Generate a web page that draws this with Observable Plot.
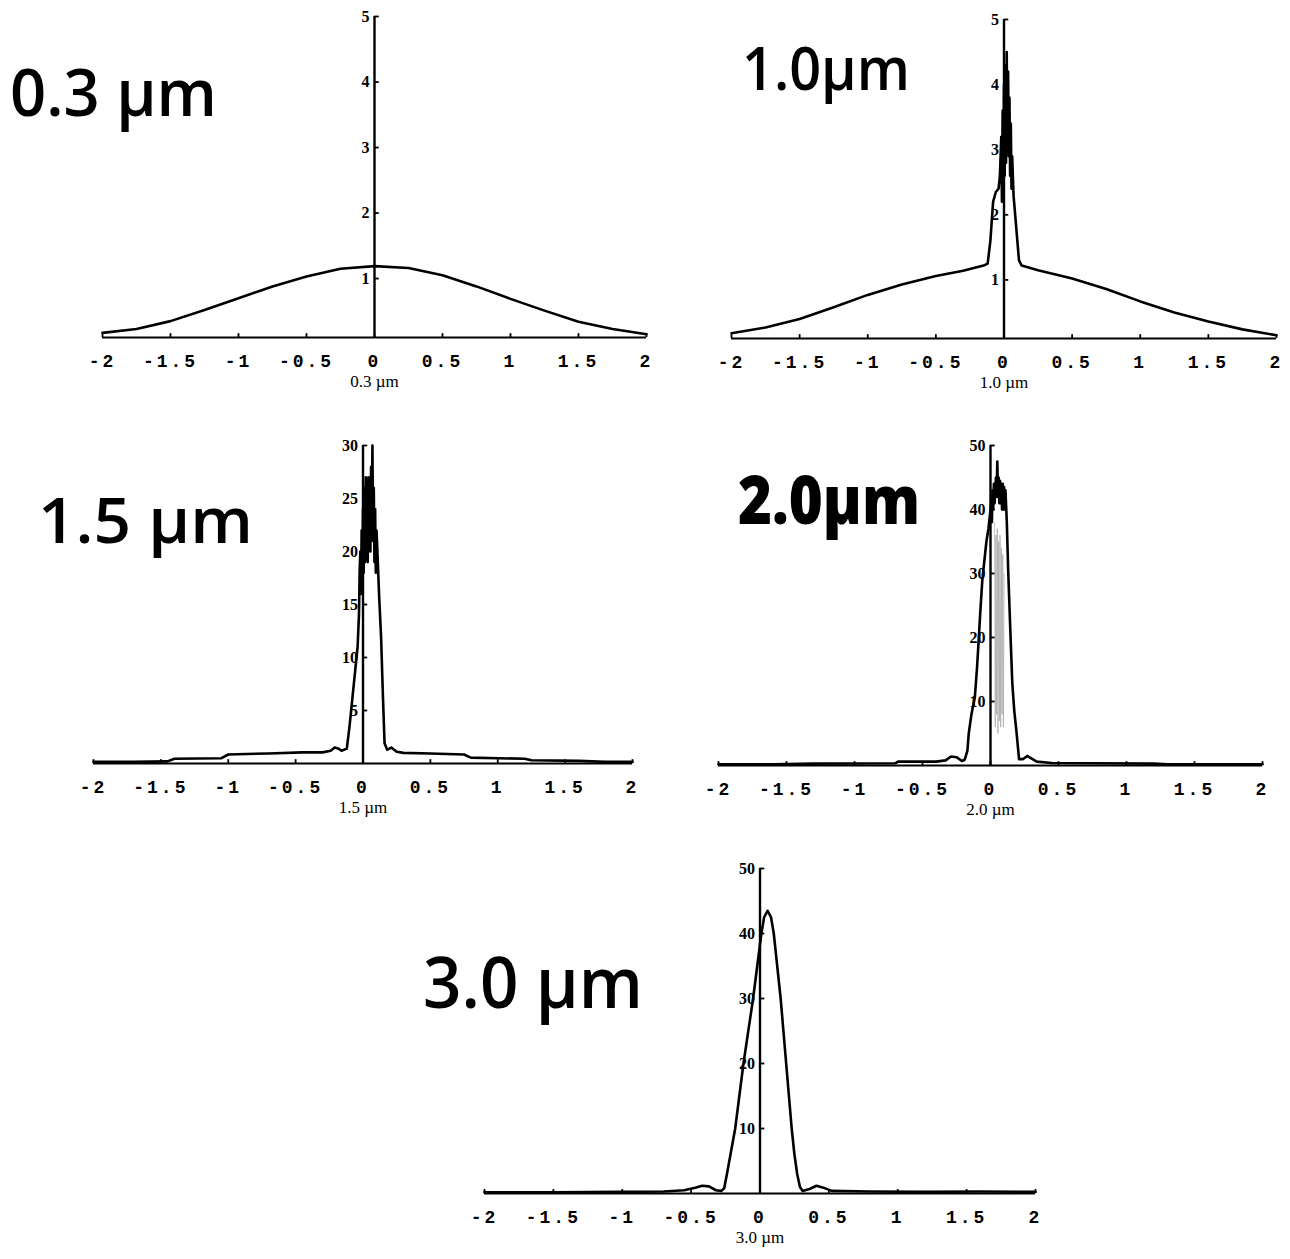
<!DOCTYPE html>
<html><head><meta charset="utf-8">
<script src="https://cdn.jsdelivr.net/npm/d3@7"></script>
<script src="https://cdn.jsdelivr.net/npm/@observablehq/plot@0.6"></script>
<style>
html,body{margin:0;padding:0;background:#fff;}
#page{position:relative;width:1290px;height:1259px;overflow:hidden;background:#fff;}
.panel{position:absolute;}
.panel svg{max-width:none !important;}
.hand{position:absolute;font-family:"Open Sans","DejaVu Sans",sans-serif;color:#000;line-height:1;white-space:nowrap;transform-origin:0 0;}
g[aria-label="x-axis tick label"] text{letter-spacing:3px;}
</style></head><body><div id="page"></div>
<script>
// ---- data ----
const xTicks = [-2, -1.5, -1, -0.5, 0, 0.5, 1, 1.5, 2];
const axisLabels = ["0.3 µm", "1.0 µm", "1.5 µm", "2.0 µm", "3.0 µm"];
const handLabels = ["0.3 µm", "1.0µm", "1.5 µm", "2.0µm", "3.0 µm"];

const yTicks03 = [1, 2, 3, 4, 5];
const yTicks10 = [1, 2, 3, 4, 5];
const yTicks15 = [5, 10, 15, 20, 25, 30];
const yTicks20 = [10, 20, 30, 40, 50];
const yTicks30 = [10, 20, 30, 40, 50];

const yDom03 = [0.1, 5];
const yDom10 = [0.1, 5];
const yDom15 = [0, 30];
const yDom20 = [0, 50];
const yDom30 = [0, 50];

const x03 = [-2, -1.75, -1.5, -1.25, -1, -0.75, -0.5, -0.25, 0, 0.25, 0.5, 0.75, 1, 1.25, 1.5, 1.75, 2];
const y03 = [0.17, 0.23, 0.35, 0.52, 0.70, 0.88, 1.03, 1.15, 1.19, 1.16, 1.05, 0.88, 0.69, 0.51, 0.34, 0.23, 0.15];

const x10 = [-2, -1.75, -1.5, -1.25, -1, -0.75, -0.5, -0.3, -0.15, -0.12, -0.1, -0.08, -0.06, -0.04, -0.03, -0.02, -0.015, -0.01, -0.005, 0, 0.005, 0.01, 0.015, 0.02, 0.025, 0.03, 0.035, 0.04, 0.045, 0.05, 0.055, 0.06, 0.07, 0.09, 0.11, 0.13, 0.25, 0.5, 0.75, 1, 1.25, 1.5, 1.75, 2];
const y10 = [0.18, 0.27, 0.40, 0.58, 0.77, 0.93, 1.06, 1.14, 1.22, 1.25, 1.6, 2.2, 2.35, 2.4, 2.6, 3.2, 2.2, 3.6, 2.4, 4.0, 2.6, 4.3, 2.8, 4.5, 3.0, 4.2, 2.9, 3.8, 2.6, 3.4, 2.4, 2.9, 2.3, 1.8, 1.3, 1.22, 1.15, 1.02, 0.86, 0.67, 0.5, 0.36, 0.24, 0.15];

const x15 = [-2, -1.7, -1.45, -1.4, -1.05, -1.0, -0.7, -0.45, -0.3, -0.24, -0.21, -0.18, -0.16, -0.12, -0.1, -0.08, -0.06, -0.04, -0.03, -0.025, -0.02, -0.015, -0.01, -0.005, 0, 0.005, 0.01, 0.015, 0.02, 0.025, 0.03, 0.035, 0.04, 0.045, 0.05, 0.055, 0.06, 0.065, 0.07, 0.075, 0.08, 0.085, 0.09, 0.095, 0.1, 0.107, 0.12, 0.134, 0.148, 0.16, 0.18, 0.21, 0.25, 0.3, 0.5, 0.75, 0.8, 1.0, 1.2, 1.25, 1.6, 1.8, 2];
const y15 = [0.15, 0.15, 0.2, 0.45, 0.5, 0.85, 0.95, 1.05, 1.05, 1.2, 1.5, 1.4, 1.2, 1.4, 3.5, 6, 8.5, 11, 14, 18, 20, 16, 22, 17, 24, 18, 26, 19, 27, 20, 26, 19, 27, 21, 26, 20, 28, 22, 30, 21, 26, 19, 24, 18, 22, 20, 15.7, 12, 6.3, 1.9, 1.3, 1.5, 1.1, 1.0, 0.95, 0.85, 0.55, 0.5, 0.45, 0.3, 0.25, 0.15, 0.15];

const x20 = [-2, -1.6, -1.3, -0.7, -0.68, -0.4, -0.33, -0.29, -0.25, -0.21, -0.19, -0.17, -0.16, -0.14, -0.115, -0.1, -0.09, -0.075, -0.06, -0.045, -0.03, -0.015, -0.005, 0.005, 0.01, 0.015, 0.02, 0.025, 0.03, 0.04, 0.045, 0.05, 0.055, 0.06, 0.065, 0.07, 0.075, 0.08, 0.085, 0.09, 0.095, 0.1, 0.105, 0.11, 0.12, 0.13, 0.146, 0.16, 0.175, 0.19, 0.21, 0.24, 0.27, 0.3, 0.34, 0.45, 0.75, 1.2, 1.3, 2];
const y20 = [0.2, 0.2, 0.3, 0.35, 0.6, 0.6, 0.8, 1.4, 1.3, 0.7, 0.9, 2.3, 5, 8, 10.7, 15, 18.5, 24, 29, 32, 35, 37, 39, 41, 38, 43, 40, 44, 41, 45, 42, 47.5, 42, 45, 41, 44.5, 41, 44, 40, 44, 40, 43.5, 40, 43, 38, 30.5, 21, 13, 8.5, 5.5, 1.0, 1.0, 1.5, 1.1, 0.6, 0.4, 0.35, 0.3, 0.2, 0.2];
// faint inner hatching inside the 2.0 µm peak
const x20in = [0.03, 0.035, 0.04, 0.045, 0.05, 0.055, 0.06, 0.065, 0.07, 0.075, 0.08, 0.085, 0.09, 0.095, 0.1];
const y20in = [38, 6, 36, 8, 37, 5, 35, 7, 36, 6, 34, 8, 33, 6, 30];

const x30 = [-2, -1.5, -1, -0.7, -0.55, -0.47, -0.42, -0.37, -0.32, -0.28, -0.26, -0.24, -0.21, -0.18, -0.15, -0.12, -0.085, -0.05, -0.02, 0.01, 0.03, 0.055, 0.08, 0.1, 0.125, 0.15, 0.17, 0.19, 0.21, 0.23, 0.25, 0.27, 0.29, 0.31, 0.36, 0.41, 0.46, 0.52, 0.8, 1.2, 1.6, 2];
const y30 = [0.2, 0.2, 0.25, 0.3, 0.5, 0.9, 1.2, 1.1, 0.5, 0.4, 0.8, 3, 6.5, 10, 15, 20, 25, 30, 35, 40, 42.5, 43.5, 42.5, 40, 35, 30, 25, 20, 15, 10, 6, 3, 1.0, 0.4, 0.7, 1.2, 0.9, 0.4, 0.3, 0.25, 0.3, 0.25];

// ---- drawing ----
const page = document.getElementById("page");
const serif = "'Liberation Serif', 'DejaVu Serif', serif";
const mono = "'Liberation Mono', 'DejaVu Sans Mono', monospace";

function drawPanel(xs, ys, yTicks, yDomain, label, frame, inner) {
  const [L, R, T, B] = frame;
  const ml = 30, mr = 30, mt = 14, mb = 64;
  const data = xs.map((x, i) => ({x, y: ys[i]}));
  const [y0, y1] = yDomain;
  const marks = [
    Plot.ruleY([y0], {stroke: "#000", strokeWidth: 2.2}),
    Plot.ruleX([0], {y1: y0, y2: y1, stroke: "#000", strokeWidth: 2.4}),
    Plot.ruleY(yTicks, {x1: 0, x2: 0.035, stroke: "#000", strokeWidth: 1.8}),
    Plot.ruleX(xTicks, {y1: y0, y2: y0 + (y1 - y0) * 0.012, stroke: "#000", strokeWidth: 1.8}),
    Plot.text(yTicks, {x: 0, y: d => d, dx: -5, textAnchor: "end", text: d => String(d), fontSize: 16, fontWeight: "bold", fontFamily: serif, fill: "#000"}),
    Plot.axisX(xTicks, {tickSize: 0, tickPadding: 17, tickFormat: d => String(d), fontSize: 18, fontWeight: "bold", fontFamily: mono, label: null, fill: "#000"}),
    Plot.text([label], {frameAnchor: "bottom", dy: 49, text: d => d, fontSize: 17, fontFamily: serif, fill: "#000"})
  ];
  if (inner) {
    const idata = inner[0].map((x, i) => ({x, y: inner[1][i]}));
    marks.push(Plot.line(idata, {x: "x", y: "y", stroke: "#9a9a9a", strokeWidth: 0.6}));
  }
  marks.push(Plot.line(data, {x: "x", y: "y", stroke: "#000", strokeWidth: 2.6, strokeLinejoin: "round"}));
  const W = R - L + ml + mr, H = B - T + mt + mb;
  const svg = Plot.plot({
    width: W,
    height: H,
    marginLeft: ml, marginRight: mr, marginTop: mt, marginBottom: mb,
    x: {domain: [-2, 2], axis: null},
    y: {domain: yDomain, axis: null},
    style: {background: "transparent", overflow: "visible", color: "#000", maxWidth: "none"},
    marks
  });
  const div = document.createElement("div");
  div.className = "panel";
  div.style.left = (L - ml) + "px";
  div.style.top = (T - mt) + "px";
  div.style.width = W + "px";
  div.style.height = H + "px";
  div.appendChild(svg);
  page.appendChild(div);
}

drawPanel(x03, y03, yTicks03, yDom03, axisLabels[0], [102, 646, 16, 337]);
drawPanel(x10, y10, yTicks10, yDom10, axisLabels[1], [731, 1276, 19, 338]);
drawPanel(x15, y15, yTicks15, yDom15, axisLabels[2], [93, 632, 445, 763]);
drawPanel(x20, y20, yTicks20, yDom20, axisLabels[3], [718, 1262, 445, 765], [x20in, y20in]);
drawPanel(x30, y30, yTicks30, yDom30, axisLabels[4], [484, 1035, 868, 1193]);

// handwritten-style labels: [left, digit top, target width, font size, weight]
const handPos = [[10, 68, 207, 66, 600], [742, 47, 168, 60, 600], [38, 498, 215, 63, 600], [738, 477, 182, 67, 800], [423, 957, 220, 71, 600]];
handLabels.forEach((t, i) => {
  const [left, digitTop, w, fs, fw] = handPos[i];
  const d = document.createElement("div");
  d.className = "hand";
  d.textContent = t;
  d.style.left = left + "px";
  d.style.top = (digitTop - 0.174 * fs) + "px";
  d.style.fontSize = fs + "px";
  d.style.fontWeight = fw;
  page.appendChild(d);
  const actual = d.getBoundingClientRect().width;
  d.style.transform = "scaleX(" + (w / actual) + ")";
});
</script></body></html>
